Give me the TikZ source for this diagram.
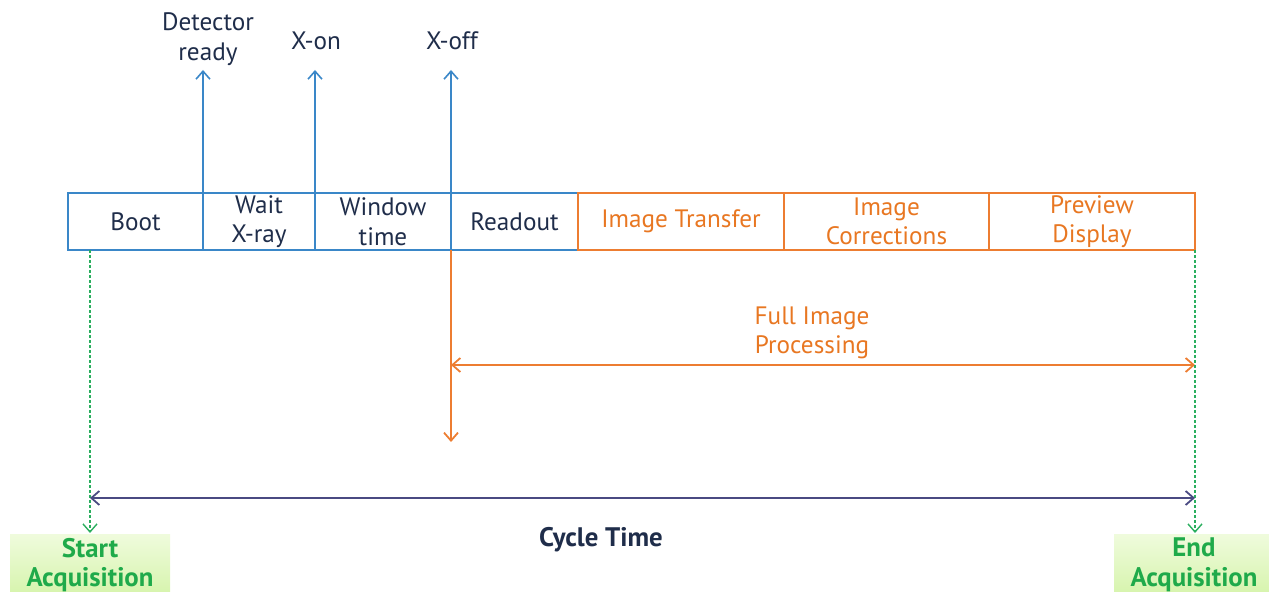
\documentclass[tikz,border=0pt]{standalone}
\usepackage{fontspec}
\setmainfont{PT Sans}
\usetikzlibrary{arrows.meta}
\definecolor{bxblue}{HTML}{3A87C8}
\definecolor{bxorange}{HTML}{ED7D31}
\definecolor{txnavy}{HTML}{1F2D4A}
\definecolor{txorange}{HTML}{E87722}
\definecolor{grn}{HTML}{1FAA4A}
\definecolor{grnline}{HTML}{2AAE5E}
\definecolor{cyc}{HTML}{4A4A82}
\definecolor{grnlight}{HTML}{EFFBDC}
\definecolor{grndark}{HTML}{D6F4AC}
\tikzset{
  lbl/.style={font=\fontsize{12.6}{14.8}\selectfont, align=center, inner sep=0pt},
  bbox/.style={draw=bxblue, line width=1.1pt, minimum height=28.5pt, inner sep=0pt, outer sep=0pt, text=txnavy, lbl},
  obox/.style={draw=bxorange, line width=1.1pt, minimum height=28.5pt, inner sep=0pt, outer sep=0pt, text=txorange, lbl},
  barb/.style={-{Straight Barb[length=4pt,width=7pt]}},
  bluearr/.style={draw=bxblue, line width=0.8pt, barb},
  orarr/.style={draw=bxorange, line width=0.9pt},
  grdash/.style={draw=grnline, line width=0.7pt, dash pattern=on 1.5pt off 1pt, barb},
  gbox/.style={top color=grnlight, bottom color=grndark, draw=none, minimum height=30pt, inner sep=0pt, text=grn, font=\bfseries\fontsize{13.4}{14.8}\selectfont, align=center},
}
\begin{document}
\begin{tikzpicture}[x=0.5pt, y=-0.5pt]
\useasboundingbox (0,0) rectangle (1269,592);
% boxes
\node[bbox, minimum width=67.5pt] (boot) at (135.5,221.5) {Boot};
\node[bbox, minimum width=56pt] (wait) at (259,221.5) {Wait\\X-ray};
\node[bbox, minimum width=68pt] (window) at (383,221.5) {Window\\time};
\node[bbox, minimum width=63.5pt] (readout) at (514.5,221.5) {Readout};
\node[obox, minimum width=103pt] (transfer) at (681,221.5) {Image Transfer};
\node[obox, minimum width=102.5pt] (corr) at (886.5,221.5) {Image\\Corrections};
\node[obox, minimum width=103pt] (preview) at (1092,221.5) {Preview\\Display};
% top labels
\node[lbl, text=txnavy] (det) at (208,39) {Detector\\ready};
\node[lbl, text=txnavy] (xon) at (316,41) {X-on};
\node[lbl, text=txnavy] (xoff) at (452,41) {X-off};
\coordinate (detTip) at (203,70);
\coordinate (xonTip) at (315,70);
\coordinate (xoffTip) at (451,70);
\draw[bluearr] (boot.north east) -- (detTip);
\draw[bluearr] (wait.north east) -- (xonTip);
\draw[bluearr] (window.north east) -- (xoffTip);
% orange
\coordinate (xoffDown) at (451,442);
\coordinate (fipL) at (451,365);
\coordinate (fipR) at (1195,365);
\draw[orarr, barb] (readout.south west) -- (xoffDown);
\draw[orarr, {Straight Barb[length=4pt,width=7pt]}-{Straight Barb[length=4pt,width=7pt]}] (fipL) -- (fipR);
\node[lbl, text=txorange] (fip) at (812,333) {Full Image\\Processing};
% green boxes
\node[gbox, minimum width=80pt] (start) at (90,565) {Start\\Acquisition};
\node[gbox, minimum width=80pt] (end) at (1194,565) {End\\Acquisition};
\coordinate (startTop) at (90,250);
\coordinate (startTip) at (90,533);
\coordinate (endTop) at (1195,250);
\coordinate (endTip) at (1195,533);
\draw[grdash] (startTop) -- (startTip);
\draw[grdash] (endTop) -- (endTip);
% cycle
\coordinate (cycL) at (90,498);
\coordinate (cycR) at (1195,498);
\draw[draw=cyc, line width=0.9pt, {Straight Barb[length=4pt,width=7pt]}-{Straight Barb[length=4pt,width=7pt]}] (cycL) -- (cycR);
\node[lbl, text=txnavy, font=\bfseries\fontsize{13.4}{14.8}\selectfont] (cyct) at (601,540) {Cycle Time};
\end{tikzpicture}
\end{document}
